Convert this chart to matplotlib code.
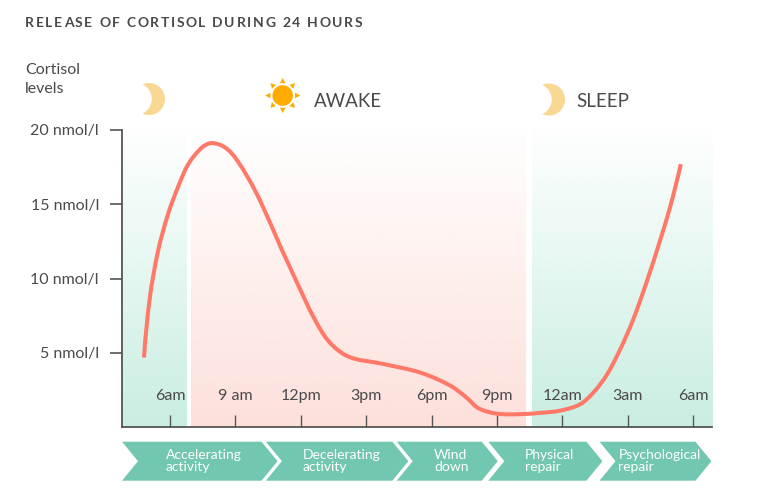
import numpy as np
import matplotlib
matplotlib.use('Agg')
import matplotlib.pyplot as plt
from matplotlib.path import Path
from matplotlib.patches import PathPatch, Polygon, Circle
from matplotlib.font_manager import FontProperties

plt.rcParams['font.family'] = ['Lato', 'DejaVu Sans']

# ---------------- data ----------------
hours = [4.81, 5.08, 5.46, 5.92, 6.38, 6.84, 7.45, 7.9, 8.5, 9.06, 9.98, 11.5,
         13.03, 14.1, 15.8, 17.47, 18.84, 19.6, 20.15, 20.99, 22.0, 22.97,
         23.89, 24.81, 25.42, 26.03, 26.64, 27.25, 27.87, 28.48, 28.94, 29.43]
cortisol = [4.68, 8.74, 11.89, 14.37, 16.2, 17.7, 18.8, 19.12, 18.85, 18.0, 15.7, 10.76,
            6.26, 4.8, 4.24, 3.67, 2.8, 1.98, 1.26, 0.9, 0.86, 0.95,
            1.1, 1.53, 2.32, 3.5, 5.2, 7.25, 9.8, 12.57, 14.82, 17.7]

tick_hours = [6, 9, 12, 15, 18, 21, 24, 27, 30]
tick_labels = ['6am', '9 am', '12pm', '3pm', '6pm', '9pm', '12am', '3am', '6am']
ytick_vals = [5, 10, 15, 20]
ytick_labels = ['5 nmol/l', '10 nmol/l', '15 nmol/l', '20 nmol/l']

period_start = [3.8, 6.96, 22.6]
period_end = [6.78, 22.28, 30.86]
period_colors = ['#c9eee1', '#fde0db', '#c9eee1']

phase_labels = ['Accelerating\nactivity', 'Decelerating\nactivity', 'Wind\ndown',
                'Physical\nrepair', 'Psychological\nrepair']
phase_start = [3.8, 10.4, 16.4, 20.6, 25.7]
phase_end = [10.2, 16.2, 20.3, 25.1, 30.1]

XMIN, XMAX = 3.8, 30.86
W, H = 758, 498

TXT = '#4a4a4a'
SPINE = '#555555'
LINE = '#ff7868'
TEAL = '#72c7b0'
MOON = '#f9d893'
SUN = '#ffab00'

fig = plt.figure(figsize=(W / 100, H / 100), dpi=100)
fig.patch.set_facecolor('white')

ax = fig.add_axes([122 / W, 71 / H, 590 / W, 297 / H])
ax.set_facecolor('none')

# gradient period bands (full colour at bottom, fading to white at top)
for x0, x1, c in zip(period_start, period_end, period_colors):
    rgb = matplotlib.colors.to_rgb(c)
    n = 256
    arr = np.zeros((n, 1, 4))
    arr[..., 0], arr[..., 1], arr[..., 2] = rgb
    arr[:, 0, 3] = np.linspace(1, 0, n)
    ax.imshow(arr, extent=[x0, x1, 0, 20.3], origin='lower', aspect='auto',
              zorder=0, interpolation='bilinear', clip_on=False)
ax.set_xlim(XMIN, XMAX)
ax.set_ylim(0, 20)

# smooth curve through the read points (chord-length Catmull-Rom -> Bezier)
sx, sy = 21.8, 14.8
P = np.column_stack([np.array(hours) * sx, np.array(cortisol) * sy])
n = len(P)
t = np.concatenate([[0], np.cumsum(np.linalg.norm(np.diff(P, axis=0), axis=1))])
M = np.zeros_like(P)
for i in range(1, n - 1):
    M[i] = (P[i + 1] - P[i - 1]) / (t[i + 1] - t[i - 1])
M[0] = 2 * (P[1] - P[0]) / (t[1] - t[0]) - M[1]
M[-1] = 2 * (P[-1] - P[-2]) / (t[-1] - t[-2]) - M[-2]
verts = [P[0]]
codes = [Path.MOVETO]
for i in range(n - 1):
    dt = t[i + 1] - t[i]
    verts += [P[i] + M[i] * dt / 3, P[i + 1] - M[i + 1] * dt / 3, P[i + 1]]
    codes += [Path.CURVE4] * 3
verts = np.array(verts) / np.array([sx, sy])
ax.add_patch(PathPatch(Path(verts, codes), fill=False, edgecolor=LINE,
                       lw=2.9, capstyle='butt', joinstyle='round', zorder=3))

# axes styling
for s in ['top', 'right']:
    ax.spines[s].set_visible(False)
for s in ['left', 'bottom']:
    ax.spines[s].set_color(SPINE)
    ax.spines[s].set_linewidth(1.3)
    ax.spines[s].set_zorder(4)
ax.set_yticks(ytick_vals)
ax.set_yticklabels(ytick_labels)
ax.tick_params(axis='y', direction='out', length=8.6, width=1.2, color=SPINE,
               pad=8, labelsize=11.5, labelcolor=TXT)
ax.set_xticks(tick_hours)
ax.set_xticklabels([''] * len(tick_hours))
ax.tick_params(axis='x', direction='in', length=9, width=1.0, color=SPINE)
for h, lab in zip(tick_hours, tick_labels):
    ax.text(h, 2.1, lab, ha='center', va='center', fontsize=11.5, color=TXT, zorder=5)

# ---------------- overlay in pixel coordinates ----------------
ov = fig.add_axes([0, 0, 1, 1], zorder=10)
ov.set_xlim(0, W)
ov.set_ylim(H, 0)
ov.axis('off')
ov.patch.set_alpha(0)


def hx(h):
    return ax.transData.transform((h, 0))[0]


# phase chevrons
top, bot, mid, d = 441.7, 480.7, 461.2, 16
for lab, s, e in zip(phase_labels, phase_start, phase_end):
    L, R = hx(s), hx(e)
    poly = [(L, top), (R, top), (R + d, mid), (R, bot), (L, bot), (L + d, mid)]
    ov.add_patch(Polygon(poly, closed=True, facecolor=TEAL, edgecolor='none'))
    cx = (L + R + d) / 2 + 4
    ov.text(cx, mid, lab, ha='center', va='center', multialignment='left',
            fontsize=10, color='white', linespacing=0.95)

# title with letter spacing
renderer = fig.canvas.get_renderer()
title = 'RELEASE OF CORTISOL DURING 24 HOURS'
fp = FontProperties(family=['Lato', 'DejaVu Sans'], weight='bold', size=10)


def tw(s):
    return renderer.get_text_width_height_descent(s, fp, ismath=False)[0]


widths = []
for ch in title:
    if ch == ' ':
        widths.append(tw('a a') - tw('aa'))
    else:
        widths.append(tw(ch))
x0t, x1t = 25, 362
gap = (x1t - x0t - sum(widths)) / (len(title) - 1)
x = x0t
for ch, wd in zip(title, widths):
    if ch != ' ':
        ov.text(x, 26.7, ch, fontproperties=fp, color=TXT, ha='left', va='baseline')
    x += wd + gap

ov.text(25, 74, 'Cortisol', fontsize=11.5, color=TXT, ha='left', va='baseline')
ov.text(25, 93, 'levels', fontsize=11.5, color=TXT, ha='left', va='baseline')
ov.text(314, 106.7, 'AWAKE', fontsize=13.5, color=TXT, ha='left', va='baseline')
ov.text(576, 106.7, 'SLEEP', fontsize=13.5, color=TXT, ha='left', va='baseline')


# moons
def moon(cx, cy, r=16, dd=13.3):
    xm = cx - dd / 2
    yh = np.sqrt(r ** 2 - (dd / 2) ** 2)
    a = np.arctan2(yh, xm - cx)
    t1 = np.linspace(-a, a, 60)
    outer = np.column_stack([cx + r * np.cos(t1), cy + r * np.sin(t1)])
    b = np.arctan2(yh, xm - (cx - dd))
    t2 = np.linspace(b, -b, 60)
    inner = np.column_stack([cx - dd + r * np.cos(t2), cy + r * np.sin(t2)])
    ov.add_patch(Polygon(np.vstack([outer, inner]), closed=True,
                         facecolor=MOON, edgecolor='none'))


moon(149, 99)
moon(549, 99.5)

# sun
scx, scy = 282.7, 95.5
ov.add_patch(Circle((scx, scy), 10.3, facecolor=SUN, edgecolor='none'))
for k in range(8):
    ang = np.pi / 2 + k * np.pi / 4
    ux, uy = np.cos(ang), -np.sin(ang)
    px, py = -uy, ux
    b0 = 12.3
    tip = 17.5
    hw = 2.8
    tri = [(scx + ux * b0 + px * hw, scy + uy * b0 + py * hw),
           (scx + ux * b0 - px * hw, scy + uy * b0 - py * hw),
           (scx + ux * tip, scy + uy * tip)]
    ov.add_patch(Polygon(tri, closed=True, facecolor=SUN, edgecolor='none'))

fig.savefig('out.png', dpi=100, facecolor='white')
